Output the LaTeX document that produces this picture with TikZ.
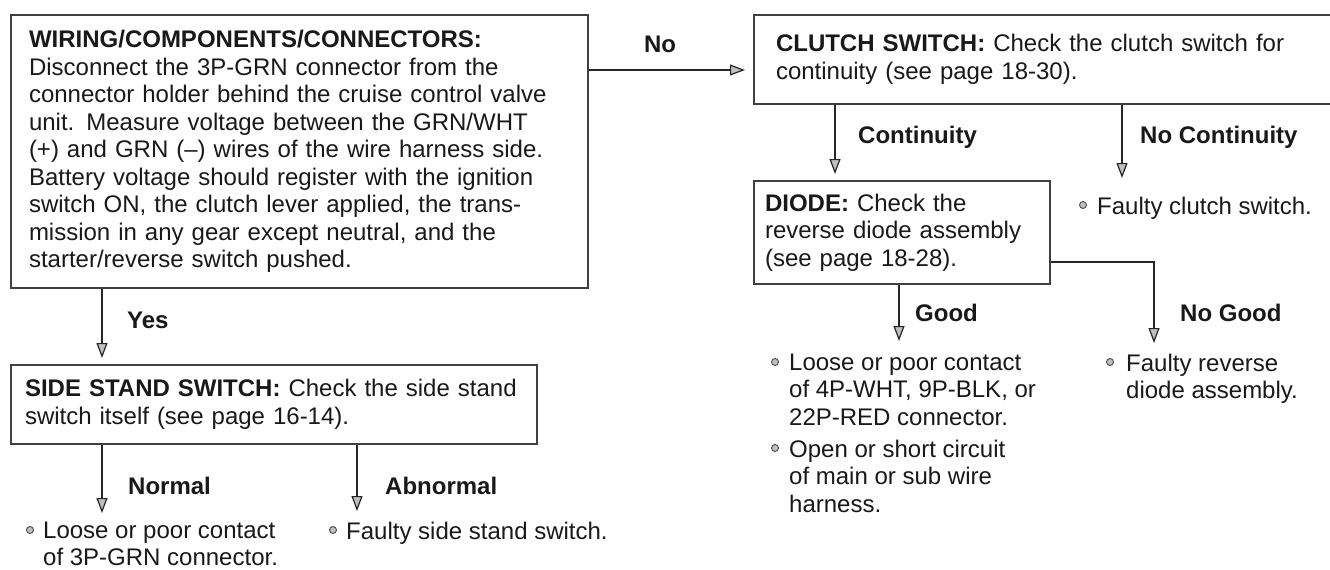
\documentclass[tikz,border=0pt]{standalone}
\usepackage{fontspec}
\setmainfont{Liberation Sans}
\usetikzlibrary{calc, positioning}
\usetikzlibrary{arrows.meta}

\begin{document}
\begin{tikzpicture}[x=1pt, y=-1pt,
    font=\fontsize{24}{27.5}\selectfont, text=black!90,
    chk/.style={draw=black!75, line width=2pt, anchor=north west, align=left, inner sep=0pt},
    lbl/.style={font=\fontsize{24}{27.5}\selectfont\bfseries, anchor=west, inner sep=0pt},
    item/.style={anchor=north west, align=left, inner sep=0pt},
    dot/.style={circle, draw=black!70, fill=gray!50, line width=0.9pt, minimum size=7pt, inner sep=0pt},
    arr/.style={draw=black!85, line width=2pt, -{Triangle[length=15pt, width=11pt, fill=gray!50, line width=1.2pt]}}]
  \useasboundingbox (0,0) rectangle (1330,570);
  \fill[white] (0,0) rectangle (1330,570);

  \node[chk, minimum width=577pt, minimum height=273pt, text width=541pt] (wiring) at (10,14)
    {\textbf{WIRING/COMPONENTS/CONNECTORS:}\\
     Disconnect the 3P-GRN connector from the\\
     connector holder behind the cruise control valve\\
     unit. Measure voltage between the GRN/WHT\\
     (+) and GRN (--) wires of the wire harness side.\\
     Battery voltage should register with the ignition\\
     switch ON, the clutch lever applied, the trans-\\
     mission in any gear except neutral, and the\\
     starter/reverse switch pushed.};
  \node[chk, minimum width=600pt, minimum height=89pt, text width=556pt] (clutch) at (753,14)
    {\textbf{CLUTCH SWITCH:} Check the clutch switch for\\ continuity (see page 18-30).};
  \node[chk, minimum width=296pt, minimum height=103pt, text width=274pt] (diode) at (753,180)
    {\textbf{DIODE:} Check the\\ reverse diode assembly\\ (see page 18-28).};
  \node[chk, minimum width=526pt, minimum height=79pt, text width=498pt] (side) at (10,364)
    {\textbf{SIDE STAND SWITCH:} Check the side stand\\ switch itself (see page 16-14).};

  \node[lbl, anchor=center] (no) at (660,44) {No};
  \node[lbl] (yes) at (127,320) {Yes};
  \node[lbl] (cont) at (858,137) {Continuity};
  \node[lbl] (nocont) at (1140,137) {No Continuity};
  \node[lbl] (good) at (915,313) {Good};
  \node[lbl] (nogood) at (1180,313) {No Good};
  \node[lbl] (normal) at (128,486) {Normal};
  \node[lbl] (abnormal) at (385,486) {Abnormal};

  \node[dot] (d1) at (30,530) {};
  \node[item] (loose3p) at (43,521.5) {Loose or poor contact\\ of 3P-GRN connector.};
  \node[dot] (d2) at (333,530) {};
  \node[item] (faultyside) at (346,521.5) {Faulty side stand switch.};
  \node[dot] (d3) at (1083,205) {};
  \node[item] (faultyclutch) at (1097,196.5) {Faulty clutch switch.};
  \node[dot] (d4) at (775,362) {};
  \node[item] (loose4p) at (789,353.5) {Loose or poor contact\\ of 4P-WHT, 9P-BLK, or\\ 22P-RED connector.};
  \node[dot] (d5) at (775,448) {};
  \node[item] (opencirc) at (789,439.5) {Open or short circuit\\ of main or sub wire\\ harness.};
  \node[dot] (d6) at (1110,362) {};
  \node[item] (faultydiode) at (1126,353.5) {Faulty reverse\\ diode assembly.};

  \coordinate (noy) at (0,70);
  \coordinate (yesx) at (102,0);
  \coordinate (contx) at (835,0);
  \coordinate (normalend) at (102,513);
  \coordinate (abnormalend) at (357,511);
  \coordinate (nocontend) at (1122,178);
  \coordinate (goodend) at (899,341);
  \coordinate (ngy) at (0,262);
  \coordinate (nogoodend) at (1154,343);

  \draw[arr, shorten >=8pt] (wiring.east |- noy) -- (clutch.west |- noy);
  \draw[arr, shorten >=6pt] (wiring.south -| yesx) -- (side.north -| yesx);
  \draw[arr] (side.south -| normalend) -- (normalend);
  \draw[arr] (side.south -| abnormalend) -- (abnormalend);
  \draw[arr, shorten >=6pt] (clutch.south -| contx) -- (diode.north -| contx);
  \draw[arr] (clutch.south -| nocontend) -- (nocontend);
  \draw[arr] (diode.south -| goodend) -- (goodend);
  \draw[arr] (diode.east |- ngy) -| (nogoodend);
\end{tikzpicture}
\end{document}
